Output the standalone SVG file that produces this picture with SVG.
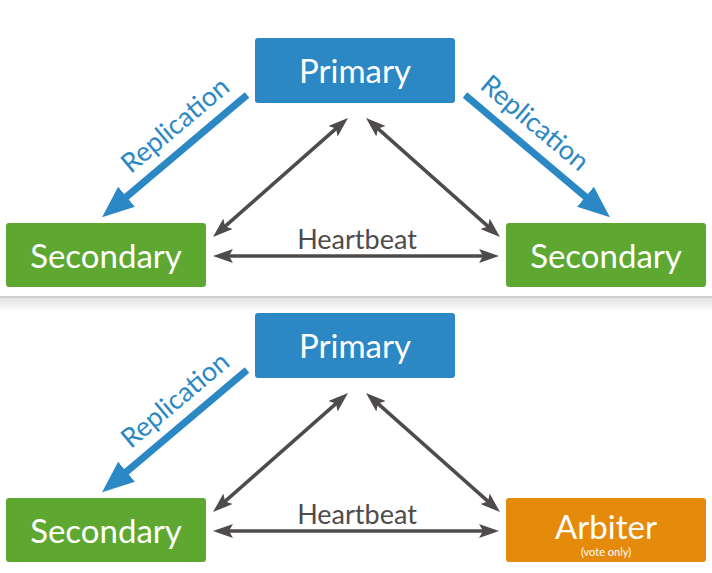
<svg xmlns="http://www.w3.org/2000/svg" width="712" height="573" viewBox="0 0 712 573">
<style>
.node text{font-family:Lato,"Open Sans","Liberation Sans",sans-serif;fill:#fff;text-anchor:middle}
.big{font-size:33px}
.small{font-size:11px}
.blue{fill:#2b88c4}
.green{fill:#5ea832}
.orange{fill:#e68a0b}
.hb{stroke:#4f4b4b;stroke-width:3.5;fill:none;marker-start:url(#ga);marker-end:url(#ga)}
.rep{stroke:#2b88c4;stroke-width:7;fill:none;marker-end:url(#ba)}
.lbl{font-family:Lato,"Open Sans","Liberation Sans",sans-serif;text-anchor:middle}
.hbl{font-size:27px;fill:#4f4b4b}
.repl{font-size:27px;fill:#2b88c4}
</style>
<defs>
<marker id="ga" viewBox="0 0 20 14" refX="10" refY="7" markerWidth="20" markerHeight="14" markerUnits="userSpaceOnUse" orient="auto-start-reverse">
<path d="M0,0 L20,7 L0,14 L4,7 z" fill="#4f4b4b"/>
</marker>
<marker id="ba" viewBox="0 0 32 26" refX="2" refY="13" markerWidth="32" markerHeight="26" markerUnits="userSpaceOnUse" orient="auto">
<path d="M0,0 L32,13 L0,26 z" fill="#2b88c4"/>
</marker>
<linearGradient id="sh" x1="0" y1="0" x2="0" y2="1">
<stop offset="0" stop-color="#e2e2e2"/>
<stop offset="1" stop-color="#ffffff"/>
</linearGradient>
</defs>
<rect x="0" y="0" width="712" height="573" fill="#fff"/>
<rect x="0" y="296" width="712" height="2" fill="#cfcfcf"/>
<rect x="0" y="298" width="712" height="14" fill="url(#sh)"/>

<g id="connectors">
<line class="rep" x1="247" y1="95" x2="125" y2="198"/>
<line class="rep" x1="465" y1="95" x2="587" y2="198"/>
<line class="rep" x1="247" y1="370" x2="125" y2="473"/>
<line class="hb" x1="223" y1="256" x2="489" y2="256"/>
<line class="hb" x1="220.5" y1="230.4" x2="340.5" y2="124.6"/>
<line class="hb" x1="373.5" y1="124.6" x2="492.5" y2="230.4"/>
<line class="hb" x1="223" y1="531" x2="489" y2="531"/>
<line class="hb" x1="220.5" y1="505.4" x2="340.5" y2="399.6"/>
<line class="hb" x1="373.5" y1="399.6" x2="492.5" y2="505.4"/>
<text class="lbl hbl" x="357" y="249">Heartbeat</text>
<text class="lbl hbl" x="357" y="524">Heartbeat</text>
<text class="lbl repl" transform="translate(181,132) rotate(-40)">Replication</text>
<text class="lbl repl" transform="translate(529,130) rotate(40)">Replication</text>
<text class="lbl repl" transform="translate(181,407) rotate(-40)">Replication</text>
</g>

<g id="top-primary" class="node">
<rect class="blue" x="255" y="38" width="200" height="65" rx="3"/>
<text class="big" x="355" y="83">Primary</text>
</g>
<g id="top-secondary-left" class="node">
<rect class="green" x="6" y="223" width="200" height="64" rx="3"/>
<text class="big" x="106" y="268">Secondary</text>
</g>
<g id="top-secondary-right" class="node">
<rect class="green" x="506" y="223" width="200" height="64" rx="3"/>
<text class="big" x="606" y="268">Secondary</text>
</g>
<g id="bottom-primary" class="node">
<rect class="blue" x="255" y="313" width="200" height="65" rx="3"/>
<text class="big" x="355" y="358">Primary</text>
</g>
<g id="bottom-secondary" class="node">
<rect class="green" x="6" y="498" width="200" height="64" rx="3"/>
<text class="big" x="106" y="543">Secondary</text>
</g>
<g id="bottom-arbiter" class="node">
<rect class="orange" x="506" y="498" width="200" height="64" rx="3"/>
<text class="big" x="606" y="539">Arbiter</text>
<text class="small" x="606" y="556">(vote only)</text>
</g>
</svg>
